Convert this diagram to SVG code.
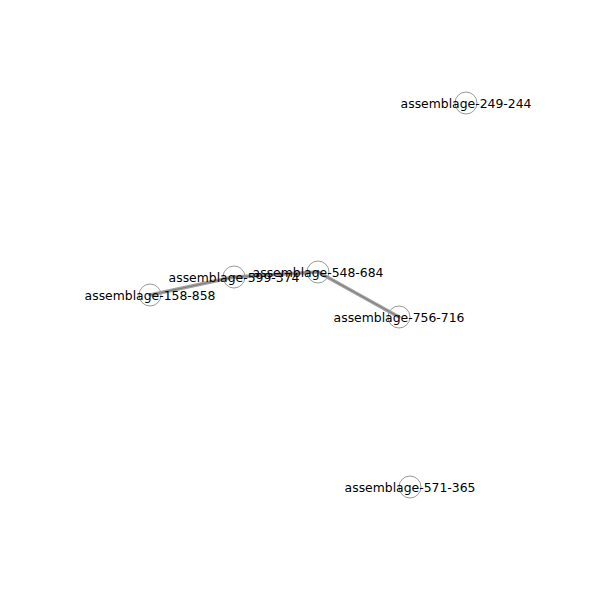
<svg xmlns="http://www.w3.org/2000/svg" width="600" height="600" viewBox="0 0 600 600">
<style>
.edge{stroke:#808080;stroke-opacity:0.75;stroke-width:3.5;fill:none;stroke-linecap:round}
.edge2{stroke:#666;stroke-opacity:0.6;stroke-width:1;fill:none}
.node circle{fill:none;stroke:#999;stroke-width:1}
.node text{font-family:"DejaVu Sans",sans-serif;font-size:12.4px;fill:#000;text-anchor:middle;dominant-baseline:central}
</style>
<rect width="600" height="600" fill="#fff"/>
<g id="edges">
<line class="edge" x1="150" y1="295" x2="234" y2="277"/>
<line class="edge" x1="234" y1="277" x2="318" y2="272"/>
<line class="edge" x1="318" y1="272" x2="399" y2="317"/>
<line class="edge2" x1="150" y1="295" x2="234" y2="277"/>
<line class="edge2" x1="234" y1="277" x2="318" y2="272"/>
<line class="edge2" x1="318" y1="272" x2="399" y2="317"/>
</g>
<g id="n249-244" class="node"><circle cx="466" cy="103" r="11"/><text x="466" y="103">assemblage-249-244</text></g>
<g id="n599-374" class="node"><circle cx="234" cy="277" r="11"/><text x="234" y="277">assemblage-599-374</text></g>
<g id="n548-684" class="node"><circle cx="318" cy="272" r="11"/><text x="318" y="272">assemblage-548-684</text></g>
<g id="n158-858" class="node"><circle cx="150" cy="295" r="11"/><text x="150" y="295">assemblage-158-858</text></g>
<g id="n756-716" class="node"><circle cx="399" cy="317" r="11"/><text x="399" y="317">assemblage-756-716</text></g>
<g id="n571-365" class="node"><circle cx="410" cy="487" r="11"/><text x="410" y="487">assemblage-571-365</text></g>
</svg>
